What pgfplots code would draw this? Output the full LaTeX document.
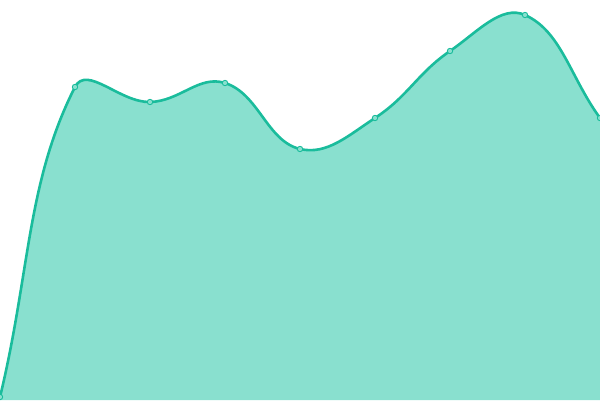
\documentclass[border=0pt]{standalone}
\usepackage{pgfplots}
\pgfplotsset{compat=1.18}
\definecolor{lineC}{RGB}{26,188,156}
\definecolor{fillC}{RGB}{137,224,207}
\makeatletter
% Chart.js-style spline (distance-weighted control points, tension 0.4)
\def\cj@tension{0.4}
\def\pgfplothandlerchartjs{%
  \def\pgf@plotstreamstart{%
    \global\let\pgf@plotstreampoint=\cj@point@initial
    \global\let\pgf@plotstreamspecial=\pgfutil@gobble
    \global\let\pgf@plotstreamend=\cj@finish
    \gdef\cj@state{0}%
  }%
}
\def\cj@point@initial#1{%
  \pgf@process{#1}%
  \pgf@plot@first@action{\pgfqpoint{\pgf@x}{\pgf@y}}%
  \xdef\cj@px{\pgf@sys@tonumber\pgf@x}\xdef\cj@py{\pgf@sys@tonumber\pgf@y}%
  \global\let\cj@cx\cj@px \global\let\cj@cy\cj@py
  \gdef\cj@state{1}%
  \global\let\pgf@plotstreampoint=\cj@point@next
}
\def\cj@point@next#1{%
  \pgf@process{#1}%
  \edef\cj@nx{\pgf@sys@tonumber\pgf@x}\edef\cj@ny{\pgf@sys@tonumber\pgf@y}%
  \pgfmathveclen{(\cj@cx)-(\cj@px)}{(\cj@cy)-(\cj@py)}\let\cj@da\pgfmathresult
  \pgfmathveclen{(\cj@nx)-(\cj@cx)}{(\cj@ny)-(\cj@cy)}\let\cj@db\pgfmathresult
  \pgfmathsetmacro\cj@fa{\cj@tension*\cj@da/(\cj@da+\cj@db)}%
  \pgfmathsetmacro\cj@fb{\cj@tension*\cj@db/(\cj@da+\cj@db)}%
  \pgfmathsetmacro\cj@dx{(\cj@nx)-(\cj@px)}%
  \pgfmathsetmacro\cj@dy{(\cj@ny)-(\cj@py)}%
  \pgfmathsetmacro\cj@pcx{(\cj@cx)-\cj@fa*(\cj@dx)}%
  \pgfmathsetmacro\cj@pcy{(\cj@cy)-\cj@fa*(\cj@dy)}%
  \ifnum\cj@state=2
    \pgfpathcurveto{\pgfqpoint{\cj@sx pt}{\cj@sy pt}}{\pgfqpoint{\cj@pcx pt}{\cj@pcy pt}}{\pgfqpoint{\cj@cx pt}{\cj@cy pt}}%
  \fi
  \pgfmathsetmacro\cj@tmpx{(\cj@cx)+\cj@fb*(\cj@dx)}%
  \pgfmathsetmacro\cj@tmpy{(\cj@cy)+\cj@fb*(\cj@dy)}%
  \global\let\cj@sx\cj@tmpx \global\let\cj@sy\cj@tmpy
  \global\let\cj@px\cj@cx \global\let\cj@py\cj@cy
  \global\let\cj@cx\cj@nx \global\let\cj@cy\cj@ny
  \gdef\cj@state{2}%
}
\def\cj@finish{%
  \ifnum\cj@state=2
    \pgfmathsetmacro\cj@pcx{(\cj@cx)-\cj@tension*((\cj@cx)-(\cj@px))}%
    \pgfmathsetmacro\cj@pcy{(\cj@cy)-\cj@tension*((\cj@cy)-(\cj@py))}%
    \pgfpathcurveto{\pgfqpoint{\cj@sx pt}{\cj@sy pt}}{\pgfqpoint{\cj@pcx pt}{\cj@pcy pt}}{\pgfqpoint{\cj@cx pt}{\cj@cy pt}}%
  \fi
}
\tikzset{chartjs/.code={\let\tikz@plot@handler=\pgfplothandlerchartjs}}
\makeatother
\begin{document}
\begin{tikzpicture}
\begin{axis}[
  width=600bp, height=400bp, scale only axis,
  xmin=0, xmax=600, ymin=0, ymax=400,
  hide axis, clip marker paths=true,
]
\addplot[draw=none, fill=fillC, chartjs] coordinates {
(0,3) (75,313) (150,298) (225,317) (300,251) (375,282) (450,349) (525,385) (600,282)
} \closedcycle;
\addplot[lineC, line width=2.6bp, chartjs, mark=*, mark size=2.7bp,
  mark options={fill=fillC, draw=lineC, line width=0.9bp, solid}] coordinates {
(0,3) (75,313) (150,298) (225,317) (300,251) (375,282) (450,349) (525,385) (600,282)
};
\end{axis}
\pgfresetboundingbox
\useasboundingbox (current axis.south west) rectangle (current axis.north east);
\end{tikzpicture}
\end{document}
